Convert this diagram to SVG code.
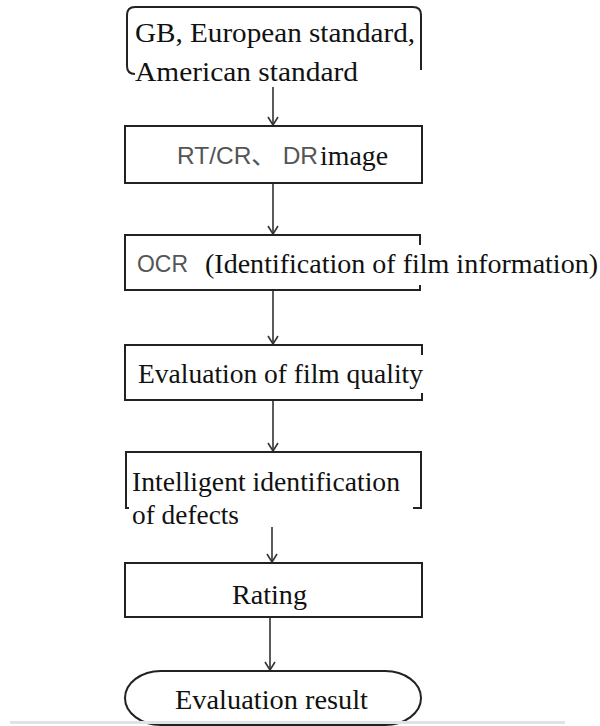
<svg xmlns="http://www.w3.org/2000/svg" width="600" height="726" viewBox="0 0 600 726">
<style>
.box{fill:#fff;stroke:#222;stroke-width:2}
.open{fill:none;stroke:#222;stroke-width:2}
.serif{font-family:'Liberation Serif','Times New Roman','DejaVu Serif',serif;font-size:28px;fill:#111}
.sans{font-family:'Liberation Sans','Noto Sans CJK SC',sans-serif;font-size:24px;fill:#555}
.conn{stroke:#333;stroke-width:1.6;fill:none;marker-end:url(#arr)}
</style>
<defs>
<marker id="arr" markerWidth="12" markerHeight="12" refX="10" refY="6" orient="auto" markerUnits="userSpaceOnUse">
<path d="M2,1 L10,6 L2,11" fill="none" stroke="#333" stroke-width="1.6"/>
</marker>
</defs>
<rect x="0" y="0" width="600" height="726" fill="#fff"/>
<g id="connectors">
<line class="conn" x1="273" y1="87" x2="273" y2="125"/>
<line class="conn" x1="273" y1="183" x2="273" y2="234"/>
<line class="conn" x1="273" y1="290" x2="273" y2="344"/>
<line class="conn" x1="273" y1="400" x2="273" y2="451"/>
<line class="conn" x1="272" y1="527" x2="272" y2="562"/>
<line class="conn" x1="270" y1="617" x2="270" y2="670"/>
</g>
<g id="n1">
<path class="open" d="M135,74 Q127,74 127,66 L127,15 Q127,7 135,7 L413,7 Q421,7 421,15 L421,70"/>
<text class="serif" x="135" y="42" textLength="280" lengthAdjust="spacingAndGlyphs">GB, European standard,</text>
<text class="serif" x="135" y="81" textLength="223" lengthAdjust="spacingAndGlyphs">American standard</text>
</g>
<g id="n2">
<rect class="box" x="125" y="126" width="297" height="57"/>
<text class="sans" x="177" y="164" textLength="141" lengthAdjust="spacingAndGlyphs">RT/CR、 DR</text>
<text class="serif" x="320" y="165" textLength="68" lengthAdjust="spacingAndGlyphs">image</text>
</g>
<g id="n3">
<path class="open" d="M420,245 L420,235 L125,235 L125,290 L420,290 L420,285"/>
<text class="sans" x="137" y="272" textLength="51" lengthAdjust="spacingAndGlyphs">OCR</text>
<text class="serif" x="205" y="273" textLength="393" lengthAdjust="spacingAndGlyphs">(Identification of film information)</text>
</g>
<g id="n4">
<path class="open" d="M422,355 L422,345 L125,345 L125,400 L422,400 L422,393"/>
<text class="serif" x="138" y="383" textLength="285" lengthAdjust="spacingAndGlyphs">Evaluation of film quality</text>
</g>
<g id="n5">
<path class="open" d="M129,508 L126,508 L126,452 L421,452 L421,508 L413,508"/>
<text class="serif" x="132" y="491" textLength="268" lengthAdjust="spacingAndGlyphs">Intelligent identification</text>
<text class="serif" x="132" y="524" textLength="107" lengthAdjust="spacingAndGlyphs">of defects</text>
</g>
<g id="n6">
<rect class="box" x="125" y="563" width="297" height="54"/>
<text class="serif" x="232" y="604" textLength="75" lengthAdjust="spacingAndGlyphs">Rating</text>
</g>
<g id="n7">
<rect class="box" x="125" y="671" width="296" height="54" rx="36" ry="27"/>
<text class="serif" x="175" y="709" textLength="193" lengthAdjust="spacingAndGlyphs">Evaluation result</text>
</g>
<rect x="10" y="721" width="555" height="3" fill="#e2e2e2"/>
</svg>
